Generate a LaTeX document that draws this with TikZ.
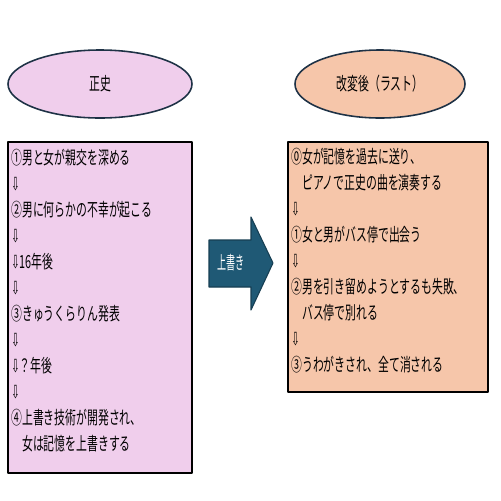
\documentclass[tikz,border=0pt]{standalone}
\usepackage{fontspec}
\newfontfamily\jpfont[FakeStretch=0.6]{Noto Sans CJK JP}
\newfontfamily\jpnarrow[FakeStretch=0.5]{Noto Sans CJK JP}
\newfontfamily\symfont[FakeStretch=0.55]{DejaVu Sans}
\newcommand{\sita}{{\symfont\char"21E9}}
\definecolor{seipink}{RGB}{240,206,236}
\definecolor{raspeach}{RGB}{246,198,170}
\definecolor{uwateal}{RGB}{31,89,117}
\definecolor{ovline}{RGB}{30,50,70}
\tikzset{
  kaku/.style={draw=black,line width=.6pt},
  daen/.style={draw=ovline,line width=.9pt},
  naka/.style={anchor=north west,inner sep=0pt,align=left}
}
\begin{document}
\begin{tikzpicture}[x=0.02cm,y=-0.02cm,line join=round,font=\jpfont\fontsize{10.3}{14.8}\selectfont]
	\useasboundingbox[fill=white] (0,0) rectangle (501,501);
	% titles
	\draw[daen,fill=seipink] (100,84) ellipse (92 and 34);
	\draw[daen,fill=raspeach] (380,84) ellipse (85 and 34);
	\node (seishi) at (100,84) {正史};
	\node (kaihen) at (380,84) {改変後（ラスト）};
	% boxes
	\draw[kaku,fill=seipink] (8,142) rectangle (192,473);
	\draw[kaku,fill=raspeach] (288,142) rectangle (488,392);
	\node[naka] (seishilist) at (11,149) {①男と女が親交を深める\\ \sita\\ ②男に何らかの不幸が起こる\\ \sita\\ \sita 16年後\\ \sita\\ ③きゅうくらりん発表\\ \sita\\ \sita ？年後\\ \sita\\ ④上書き技術が開発され、\\ 　女は記憶を上書きする};
	\node[naka] (kaihenlist) at (291,148) {⓪女が記憶を過去に送り、\\ 　ピアノで正史の曲を演奏する\\ \sita\\ ①女と男がバス停で出会う\\ \sita\\ ②男を引き留めようとするも失敗、\\ 　バス停で別れる\\ \sita\\ ③うわがきされ、全て消される};
	% arrow
	\draw[fill=uwateal,draw=uwateal!70!black,line width=.6pt] (209,240) -- (251,240) -- (251,217) -- (273,263) -- (251,310) -- (251,287) -- (209,287) -- cycle;
	\node[text=white,font=\jpnarrow\fontsize{10.3}{12}\selectfont] (uwagaki) at (231,263) {上書き};
\end{tikzpicture}
\end{document}
